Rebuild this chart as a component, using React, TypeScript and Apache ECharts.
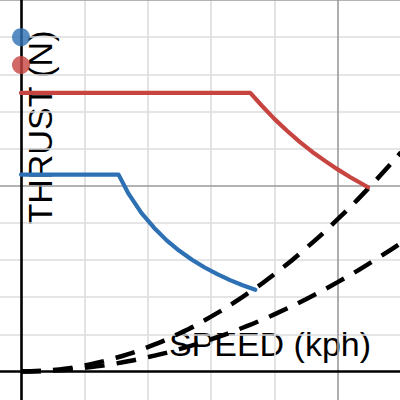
import React, { useEffect, useRef } from "react";
import * as echarts from "echarts";

// Speed (kph) / thrust (N) readings
const redSpeed = [0, 36.2, 38, 40, 42, 44, 46, 48, 50, 52, 54.8];
const redThrust = [750, 750, 716, 680, 648, 618, 591, 567, 544, 523, 496];

const blueSpeed = [0, 15.4, 17, 19, 21, 23, 25, 27, 29, 31, 33, 35, 37];
const blueThrust = [530, 530, 478, 427, 387, 353, 325, 301, 280, 262, 246, 232, 220];

const dragSpeed = [0, 5, 10, 15, 20, 25, 30, 35, 40, 45, 50, 55, 60];
const dragHigh = [0, 4.1, 16.4, 37, 65.6, 102.5, 147.6, 201, 262, 332, 410, 496, 590];
const dragLow = [0, 2.4, 9.6, 21.6, 38.5, 60.1, 86.6, 117.8, 153.9, 194.8, 240.5, 291, 346];

const pointSpeed = [0, 0];
const pointThrust = [900, 825];

const xMinorLines = [10, 20, 30, 40];
const xMajorLines = [50];
const yMinorLines = [100, 200, 300, 400, 600, 700, 800, 900];
const yMajorLines = [500, 1000];

const xLabel = "SPEED (kph)";
const yLabel = "THRUST (N)";

const RED = "#c74440";
const BLUE = "#2d70b3";

const zip = (a: number[], b: number[]) => a.map((v, i) => [v, b[i]]);

export default function App() {
  const ref = useRef<HTMLDivElement>(null);
  useEffect(() => {
    if (!ref.current) return;
    const chart = echarts.init(ref.current, null, { renderer: "svg" });
    const minor = { color: "#dcdcdc", width: 1.6, type: "solid" as const };
    const major = { color: "#9a9a9a", width: 1.6, type: "solid" as const };
    const axis = { color: "#000", width: 2.6, type: "solid" as const };
    const gridData: any[] = [
      ...xMinorLines.map((v) => ({ xAxis: v, lineStyle: minor })),
      ...yMinorLines.map((v) => ({ yAxis: v, lineStyle: minor })),
      ...xMajorLines.map((v) => ({ xAxis: v, lineStyle: major })),
      ...yMajorLines.map((v) => ({ yAxis: v, lineStyle: major })),
      { xAxis: 0, lineStyle: axis },
      { yAxis: 0, lineStyle: axis },
    ];
    const font = "'Liberation Sans', Arial, Helvetica, sans-serif";
    chart.setOption({
      animation: false,
      grid: { left: 0, right: 0, top: 0, bottom: 0, containLabel: false },
      xAxis: {
        type: "value",
        min: -3.316,
        max: 59.84,
        axisLine: { show: false },
        axisTick: { show: false },
        axisLabel: { show: false },
        splitLine: { show: false },
      },
      yAxis: {
        type: "value",
        min: -76.7,
        max: 1000,
        axisLine: { show: false },
        axisTick: { show: false },
        axisLabel: { show: false },
        splitLine: { show: false },
      },
      graphic: [
        {
          type: "text",
          x: 270,
          y: 344,
          z: 5,
          style: {
            text: xLabel,
            font: `34px ${font}`,
            fill: "#000",
            align: "center",
            verticalAlign: "middle",
            stroke: "#fff",
            lineWidth: 4,
          },
        },
        {
          type: "text",
          x: 40,
          y: 127.5,
          rotation: Math.PI / 2,
          z: 5,
          style: {
            text: yLabel,
            font: `34px ${font}`,
            fill: "#000",
            align: "center",
            verticalAlign: "middle",
            stroke: "#fff",
            lineWidth: 4,
          },
        },
      ],
      series: [
        {
          type: "line",
          z: 1,
          data: [[0, 0]],
          symbol: "none",
          lineStyle: { opacity: 0 },
          silent: true,
          markLine: {
            silent: true,
            symbol: "none",
            label: { show: false },
            data: gridData,
          },
        },
        {
          type: "line",
          z: 10,
          data: zip(dragSpeed, dragHigh),
          smooth: true,
          symbol: "none",
          lineStyle: { color: "#000", width: 4.5, type: [20, 12], cap: "butt" },
        },
        {
          type: "line",
          z: 10,
          data: zip(dragSpeed, dragLow),
          smooth: true,
          symbol: "none",
          lineStyle: { color: "#000", width: 4.5, type: [20, 12], cap: "butt" },
        },
        {
          type: "line",
          z: 11,
          data: zip(redSpeed, redThrust),
          symbol: "none",
          lineStyle: { color: RED, width: 4.2, cap: "round", join: "round" },
        },
        {
          type: "line",
          z: 11,
          data: zip(blueSpeed, blueThrust),
          symbol: "none",
          lineStyle: { color: BLUE, width: 4.2, cap: "round", join: "round" },
        },
        {
          type: "scatter",
          z: 12,
          symbolSize: 18,
          data: [
            { value: [pointSpeed[0], pointThrust[0]], itemStyle: { color: BLUE } },
            { value: [pointSpeed[1], pointThrust[1]], itemStyle: { color: RED } },
          ],
        },
      ],
    });
    return () => chart.dispose();
  }, []);
  return (
    <div
      ref={ref}
      style={{ position: "fixed", left: 0, top: 0, width: 400, height: 400, background: "#fff" }}
    />
  );
}
